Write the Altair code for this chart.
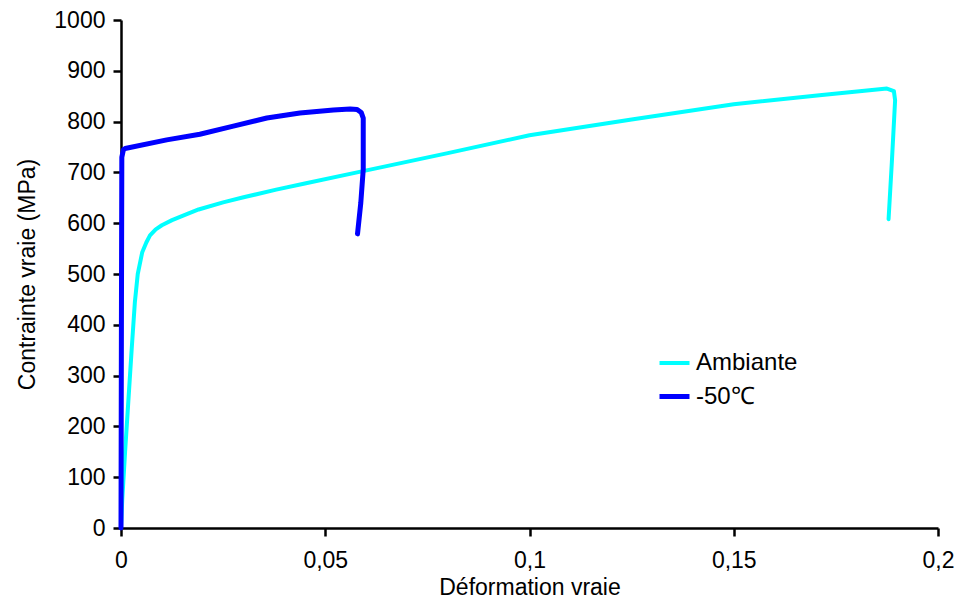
import altair as alt
import pandas as pd

# Ambient temperature curve (strain, true stress MPa)
amb_x = [0.0, 0.0003, 0.001, 0.0018, 0.0026, 0.0034, 0.0041, 0.0052, 0.0062, 0.0071,
         0.0085, 0.010, 0.0125, 0.0152, 0.019, 0.025, 0.03, 0.038, 0.045, 0.0578,
         0.08, 0.1, 0.125, 0.15, 0.171, 0.1875, 0.1892, 0.1895, 0.1887, 0.1879]
amb_y = [0, 55, 150, 250, 350, 445, 500, 543, 562, 576,
         588, 596, 606, 615, 627, 641, 651, 666, 678, 700,
         738, 773, 804, 834, 852, 865, 860, 842, 720, 608]

# -50 °C curve
cold_x = [0.0, 0.0001, 0.0002, 0.0006, 0.001, 0.0112, 0.0193, 0.0275, 0.0357, 0.0438,
          0.052, 0.0561, 0.0578, 0.0588, 0.0593, 0.0593, 0.0587, 0.0579]
cold_y = [0, 400, 730, 745, 747, 764, 775, 791, 807, 817,
          823, 825, 824, 818, 807, 706, 640, 579]

series = ["Ambiante", "-50℃"]
colors = ["#00FFFF", "#0000FF"]
widths = [4, 5]
x_ticks = [0, 0.05, 0.1, 0.15, 0.2]
y_ticks = list(range(0, 1001, 100))

rows = []
for i, (x, y) in enumerate(zip(amb_x, amb_y)):
    rows.append({"strain": x, "stress": y, "serie": series[0], "i": i})
for i, (x, y) in enumerate(zip(cold_x, cold_y)):
    rows.append({"strain": x, "stress": y, "serie": series[1], "i": i})
df = pd.DataFrame(rows)

FONT = "Liberation Sans"

axis_common = dict(
    grid=False,
    domainColor="black", domainWidth=2.5,
    tickColor="black", tickWidth=2.5, tickSize=8,
    labelFont=FONT, labelFontSize=23, labelColor="black",
    titleFont=FONT, titleFontSize=23, titleFontWeight="normal", titleColor="black",
    labelFlush=False, labelOverlap=False,
)

chart = alt.Chart(df).mark_line(strokeJoin="round", strokeCap="round").encode(
    x=alt.X("strain:Q",
            scale=alt.Scale(domain=[0, 0.2], nice=False, zero=False),
            axis=alt.Axis(values=x_ticks, title="Déformation vraie",
                          labelExpr="replace('' + datum.value, '.', ',')",
                          labelPadding=13, titlePadding=4, **axis_common)),
    y=alt.Y("stress:Q",
            scale=alt.Scale(domain=[0, 1000], nice=False),
            axis=alt.Axis(values=y_ticks, title="Contrainte vraie (MPa)",
                          labelExpr="'' + datum.value",
                          labelPadding=8, titlePadding=14, **axis_common)),
    color=alt.Color("serie:N",
                    scale=alt.Scale(domain=series, range=colors),
                    legend=alt.Legend(title=None, orient="none", legendX=536, legendY=326,
                                      symbolType="stroke", symbolSize=900,
                                      symbolStrokeWidth=5, labelFont=FONT,
                                      labelFontSize=24, labelColor="black",
                                      rowPadding=4, labelOffset=4, padding=0)),
    strokeWidth=alt.StrokeWidth("serie:N",
                                scale=alt.Scale(domain=series, range=widths),
                                legend=None),
    order="i:Q",
).properties(
    width=817, height=508,
    autosize=alt.AutoSizeParams(type="none"),
    padding={"left": 113, "top": 12, "right": 16, "bottom": 76},
).configure_view(stroke=None)

chart.save("out.html", embed_options={"renderer": "svg", "actions": False})
